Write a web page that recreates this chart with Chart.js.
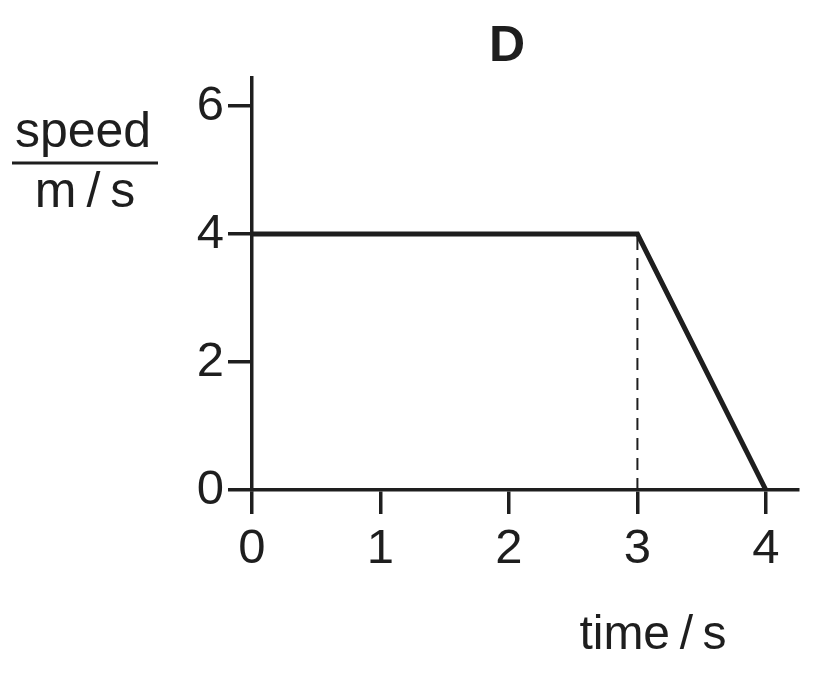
<!DOCTYPE html>
<html>
<head>
<meta charset="utf-8">
<title>Speed-time graph D</title>
<script src="https://cdn.jsdelivr.net/npm/chart.js@4.4.1/dist/chart.umd.min.js"></script>
<style>
  html, body { margin: 0; padding: 0; background: #fff; }
  #wrap { width: 820px; height: 674px; }
</style>
</head>
<body>
<div id="wrap"><canvas id="speedChart"></canvas></div>
<script>
// values
const timeValues = [0, 3, 4];      // s
const speedValues = [4, 4, 0];     // m/s
const dashTime = [3, 3];
const dashSpeed = [0, 4];
const xTickValues = [0, 1, 2, 3, 4];
const yTickValues = [0, 2, 4, 6];

const ink = '#1e1e1e';
const fontFamily = '"Liberation Sans", Arial, Helvetica, sans-serif';

// draws the title and the axis labels (speed over m/s, time/s)
const labelsPlugin = {
    id: 'labels',
    afterDraw(chart) {
        const ctx = chart.ctx;
        ctx.save();
        ctx.fillStyle = ink;
        ctx.textAlign = 'center';
        ctx.textBaseline = 'alphabetic';

        ctx.font = 'bold 50px ' + fontFamily;
        ctx.fillText('D', 507, 61);

        ctx.font = '50px ' + fontFamily;
        ctx.fillText('speed', 83, 147);
        ctx.fillText('m\u2009/\u2009s', 85, 207);
        ctx.font = '48px ' + fontFamily;
        ctx.fillText('time\u2009/\u2009s', 653, 649);

        // fraction bar
        ctx.strokeStyle = ink;
        ctx.lineWidth = 3;
        ctx.beginPath();
        ctx.moveTo(12, 163);
        ctx.lineTo(158, 163);
        ctx.stroke();
        ctx.restore();
    }
};

const ctx = document.getElementById('speedChart').getContext('2d');

const speedChart = new Chart(ctx, {
    type: 'scatter',
    data: {
        datasets: [{
            label: 'speed',
            data: timeValues.map((t, i) => ({ x: t, y: speedValues[i] })),
            showLine: true,
            borderColor: ink,
            borderWidth: 5,
            borderJoinStyle: 'miter',
            pointRadius: 0,
            tension: 0
        }, {
            label: 'guide',
            data: dashTime.map((t, i) => ({ x: t, y: dashSpeed[i] })),
            showLine: true,
            borderColor: ink,
            borderWidth: 2,
            borderDash: [12, 8],
            pointRadius: 0
        }]
    },
    options: {
        responsive: true,
        maintainAspectRatio: false,
        animation: false,
        devicePixelRatio: 1,
        layout: {
            padding: { left: 0, right: 22, top: 78, bottom: 0 }
        },
        plugins: {
            legend: { display: false },
            tooltip: { enabled: false }
        },
        scales: {
            x: {
                type: 'linear',
                min: 0,
                max: 4.25,
                afterBuildTicks: scale => {
                    scale.ticks = xTickValues.map(v => ({ value: v }));
                },
                afterFit: scale => { scale.height = 184; },
                grid: {
                    drawOnChartArea: false,
                    drawTicks: true,
                    tickLength: 24,
                    color: ink,
                    lineWidth: 3.5
                },
                border: { display: true, color: ink, width: 3.5 },
                ticks: {
                    color: ink,
                    padding: 6,
                    maxRotation: 0,
                    font: { family: fontFamily, size: 49 }
                }
            },
            y: {
                type: 'linear',
                min: 0,
                max: 6.44,
                afterBuildTicks: scale => {
                    scale.ticks = yTickValues.map(v => ({ value: v }));
                },
                afterFit: scale => { scale.width = 252; },
                grid: {
                    drawOnChartArea: false,
                    drawTicks: true,
                    tickLength: 24,
                    color: ink,
                    lineWidth: 3.5
                },
                border: { display: true, color: ink, width: 3.5 },
                ticks: {
                    color: ink,
                    padding: 4,
                    font: { family: fontFamily, size: 49 }
                }
            }
        }
    },
    plugins: [labelsPlugin]
});
</script>
</body>
</html>
